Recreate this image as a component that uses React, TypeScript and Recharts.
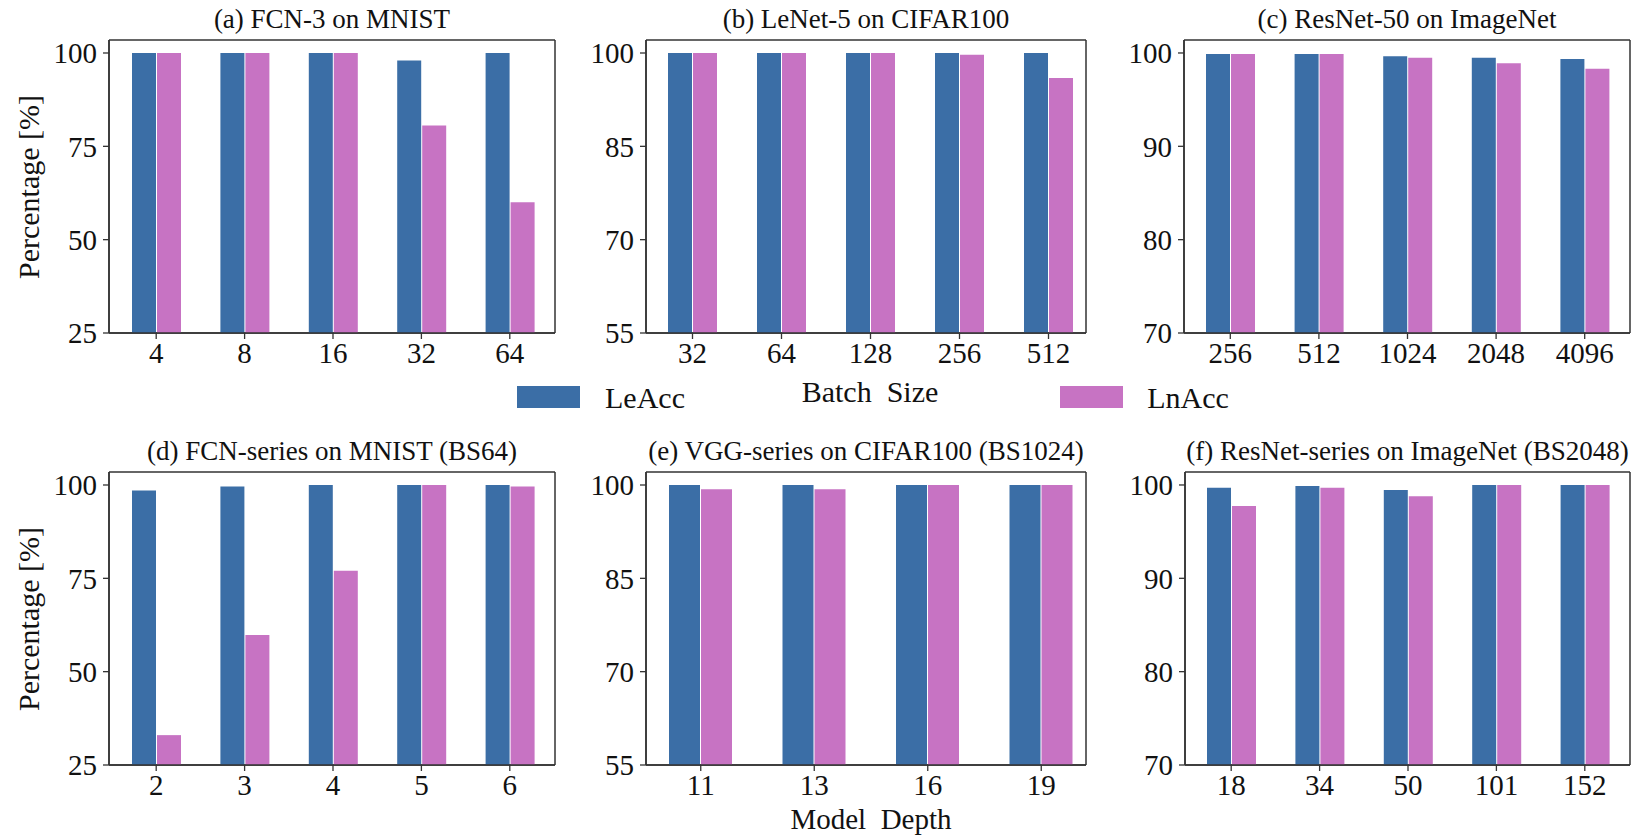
import { BarChart, Bar, XAxis, YAxis, CartesianGrid } from "recharts";

const FONT = '"Liberation Serif", "Times New Roman", serif';
const LE_COLOR = "#3b6ea6";
const LN_COLOR = "#c773c3";
const AXIS_COLOR = "#333";
const TEXT_COLOR = "#111";

// (a) FCN-3 on MNIST
const batchA = ["4", "8", "16", "32", "64"];
const leAccA = [100, 100, 100, 98.0, 100];
const lnAccA = [100, 100, 100, 80.6, 60.0];

// (b) LeNet-5 on CIFAR100
const batchB = ["32", "64", "128", "256", "512"];
const leAccB = [100, 100, 100, 100, 100];
const lnAccB = [100, 100, 100, 99.7, 96.0];

// (c) ResNet-50 on ImageNet
const batchC = ["256", "512", "1024", "2048", "4096"];
const leAccC = [99.9, 99.9, 99.65, 99.5, 99.35];
const lnAccC = [99.9, 99.9, 99.5, 98.9, 98.3];

// (d) FCN-series on MNIST (BS64)
const depthD = ["2", "3", "4", "5", "6"];
const leAccD = [98.5, 99.6, 100, 100, 100];
const lnAccD = [33.0, 59.8, 77.0, 100, 99.6];

// (e) VGG-series on CIFAR100 (BS1024)
const depthE = ["11", "13", "16", "19"];
const leAccE = [100, 100, 100, 100];
const lnAccE = [99.3, 99.3, 100, 100];

// (f) ResNet-series on ImageNet (BS2048)
const depthF = ["18", "34", "50", "101", "152"];
const leAccF = [99.7, 99.9, 99.45, 100, 100];
const lnAccF = [97.75, 99.7, 98.8, 100, 100];

const ticksMnist = [25, 50, 75, 100];
const ticksCifar = [55, 70, 85, 100];
const ticksImageNet = [70, 80, 90, 100];

const SERIES = [
  { key: "le", label: "LeAcc", color: LE_COLOR },
  { key: "ln", label: "LnAcc", color: LN_COLOR },
];

interface Box {
  left: number;
  right: number;
  top: number;
  bottom: number;
}

interface PanelProps {
  title: string;
  cats: string[];
  le: number[];
  ln: number[];
  yDomain: [number, number];
  yTicks: number[];
  box: Box;
  pad: { left: number; right: number };
  barSize: number;
  yLabel?: string;
}

// text placed by its baseline (HTML, centred on x)
function Caption({ x, baseline, size, children }: { x: number; baseline: number; size: number; children: string }) {
  return (
    <div
      style={{
        position: "absolute",
        left: x,
        top: baseline - size * 0.8375,
        transform: "translateX(-50%)",
        fontFamily: FONT,
        fontSize: size,
        lineHeight: `${size}px`,
        color: TEXT_COLOR,
        whiteSpace: "pre",
      }}
    >
      {children}
    </div>
  );
}

function Panel({ title, cats, le, ln, yDomain, yTicks, box, pad, barSize, yLabel }: PanelProps) {
  const yw = 100;
  const mt = 2;
  const mr = 2;
  const xh = 56;
  const plotW = box.right - box.left;
  const plotH = box.bottom - box.top;
  const data = cats.map((c, i) => ({ name: c, le: le[i], ln: ln[i] }));

  return (
    <>
      <Caption x={(box.left + box.right) / 2} baseline={box.top - 11} size={27}>
        {title}
      </Caption>
      {yLabel && (
        <div
          style={{
            position: "absolute",
            left: 29,
            top: (box.top + box.bottom) / 2,
            transform: "translate(-50%, -50%) rotate(-90deg)",
            fontFamily: FONT,
            fontSize: 30,
            color: TEXT_COLOR,
            whiteSpace: "nowrap",
          }}
        >
          {yLabel}
        </div>
      )}
      <div style={{ position: "absolute", left: box.left - yw, top: box.top - mt }}>
        <BarChart
          width={yw + plotW + mr}
          height={mt + plotH + xh}
          data={data}
          margin={{ top: mt, right: mr, bottom: 0, left: 0 }}
          barGap={1}
        >
          {/* full frame round the plot area */}
          <CartesianGrid
            stroke={AXIS_COLOR}
            strokeWidth={1.5}
            horizontalCoordinatesGenerator={() => [mt, mt + plotH]}
            verticalCoordinatesGenerator={() => [yw, yw + plotW]}
          />
          <XAxis
            dataKey="name"
            interval={0}
            height={xh}
            padding={pad}
            tickSize={6}
            tickMargin={3}
            axisLine={{ stroke: AXIS_COLOR, strokeWidth: 1.5 }}
            tickLine={{ stroke: AXIS_COLOR, strokeWidth: 1.3 }}
            tick={{ fill: TEXT_COLOR, fontSize: 29, fontFamily: FONT }}
          />
          <YAxis
            type="number"
            domain={yDomain}
            ticks={yTicks}
            interval={0}
            allowDataOverflow
            width={yw}
            tickSize={6}
            tickMargin={6}
            axisLine={{ stroke: AXIS_COLOR, strokeWidth: 1.5 }}
            tickLine={{ stroke: AXIS_COLOR, strokeWidth: 1.3 }}
            tick={{ fill: TEXT_COLOR, fontSize: 29, fontFamily: FONT }}
          />
          {SERIES.map((s) => (
            <Bar key={s.key} dataKey={s.key} name={s.label} fill={s.color} barSize={barSize} isAnimationActive={false} />
          ))}
        </BarChart>
      </div>
    </>
  );
}

const ROW1 = { top: 40, bottom: 333 };
const ROW2 = { top: 472, bottom: 765 };

export default function App() {
  return (
    <div
      style={{
        position: "absolute",
        left: 0,
        top: 0,
        width: 1640,
        height: 838,
        background: "white",
        overflow: "hidden",
      }}
    >
      <Panel
        title="(a) FCN-3 on MNIST"
        cats={batchA}
        le={leAccA}
        ln={lnAccA}
        yDomain={[25, 103.48]}
        yTicks={ticksMnist}
        box={{ left: 109, right: 555, ...ROW1 }}
        pad={{ left: 3, right: 1 }}
        barSize={24}
        yLabel="Percentage [%]"
      />
      <Panel
        title="(b) LeNet-5 on CIFAR100"
        cats={batchB}
        le={leAccB}
        ln={lnAccB}
        yDomain={[55, 102.09]}
        yTicks={ticksCifar}
        box={{ left: 646, right: 1086, ...ROW1 }}
        pad={{ left: 2, right: -7 }}
        barSize={24}
      />
      <Panel
        title="(c) ResNet-50 on ImageNet"
        cats={batchC}
        le={leAccC}
        ln={lnAccC}
        yDomain={[70, 101.39]}
        yTicks={ticksImageNet}
        box={{ left: 1184, right: 1630, ...ROW1 }}
        pad={{ left: 2, right: 1 }}
        barSize={24}
      />
      <Panel
        title="(d) FCN-series on MNIST (BS64)"
        cats={depthD}
        le={leAccD}
        ln={lnAccD}
        yDomain={[25, 103.48]}
        yTicks={ticksMnist}
        box={{ left: 109, right: 555, ...ROW2 }}
        pad={{ left: 3, right: 1 }}
        barSize={24}
        yLabel="Percentage [%]"
      />
      <Panel
        title="(e) VGG-series on CIFAR100 (BS1024)"
        cats={depthE}
        le={leAccE}
        ln={lnAccE}
        yDomain={[55, 102.09]}
        yTicks={ticksCifar}
        box={{ left: 646, right: 1086, ...ROW2 }}
        pad={{ left: -2, right: -12 }}
        barSize={31}
      />
      <Panel
        title="(f) ResNet-series on ImageNet (BS2048)"
        cats={depthF}
        le={leAccF}
        ln={lnAccF}
        yDomain={[70, 101.39]}
        yTicks={ticksImageNet}
        box={{ left: 1185, right: 1630, ...ROW2 }}
        pad={{ left: 2, right: 1 }}
        barSize={24}
      />

      {/* shared legend and axis titles */}
      {SERIES.map((s, i) => (
        <div key={s.key}>
          <div
            style={{
              position: "absolute",
              left: i === 0 ? 517 : 1060,
              top: 386,
              width: 63,
              height: 22,
              background: s.color,
            }}
          />
          <Caption x={i === 0 ? 645 : 1188} baseline={408} size={30}>
            {s.label}
          </Caption>
        </div>
      ))}
      <Caption x={870} baseline={402} size={30}>
        {"Batch  Size"}
      </Caption>
      <Caption x={871} baseline={829} size={29}>
        {"Model  Depth"}
      </Caption>
    </div>
  );
}
